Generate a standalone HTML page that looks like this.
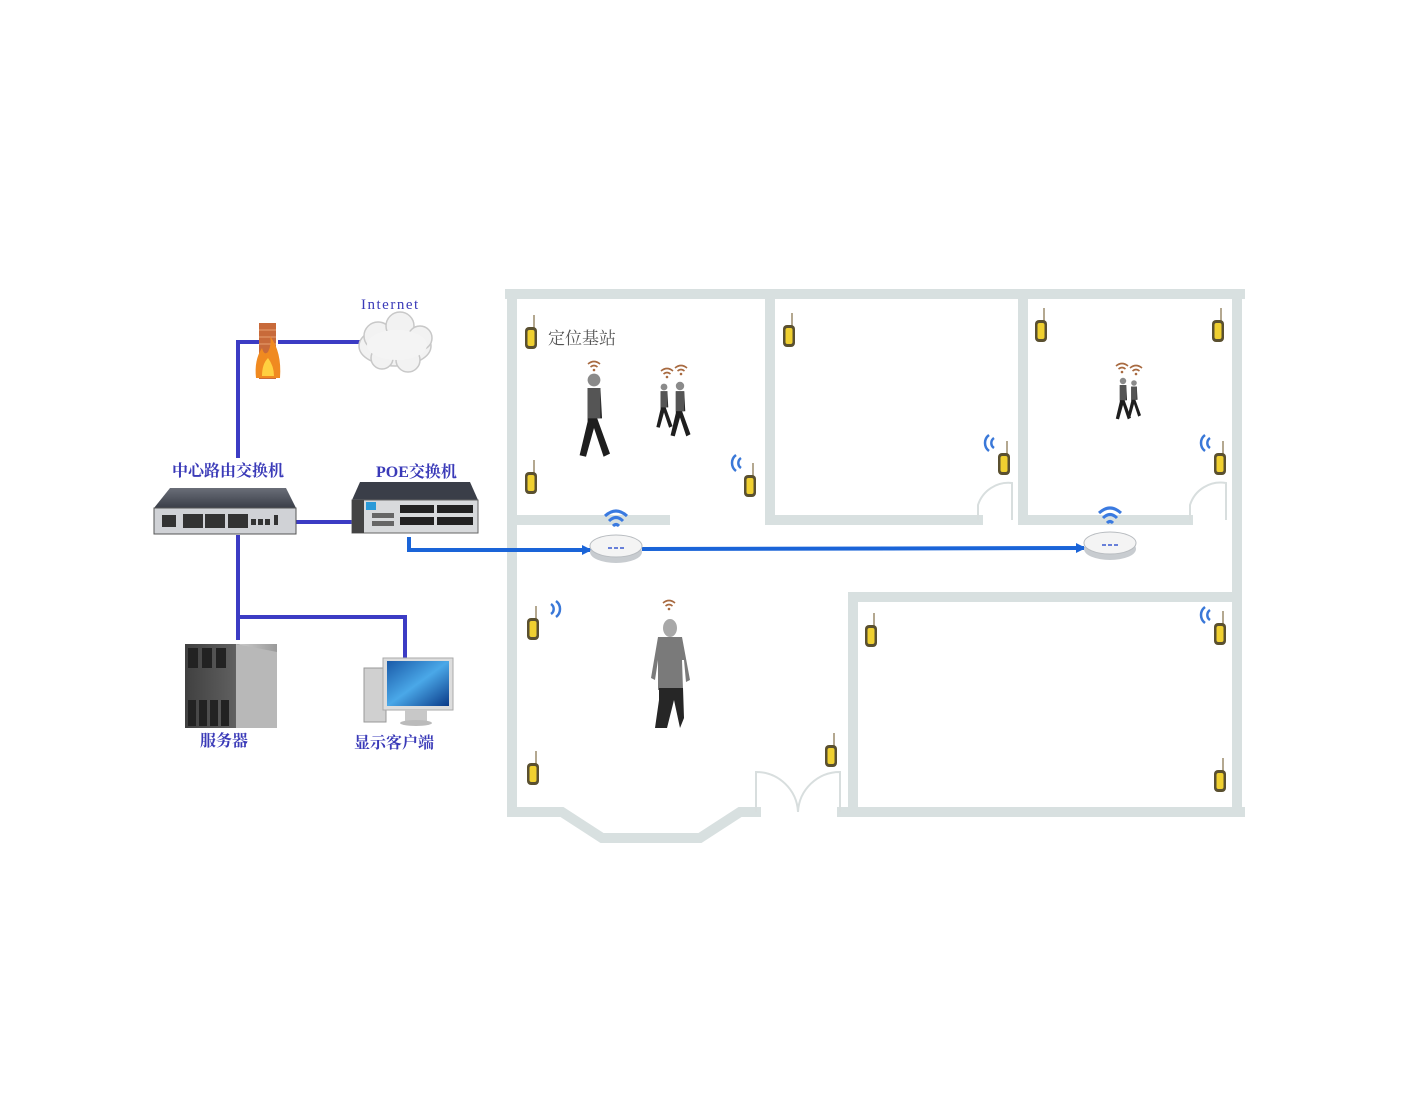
<!DOCTYPE html>
<html><head><meta charset="utf-8"><style>
html,body{margin:0;padding:0;background:#fff;}
svg{display:block}
text{font-family:"Liberation Serif","Noto Serif CJK SC",serif;}
</style></head><body>
<svg width="1425" height="1120" viewBox="0 0 1425 1120" xmlns="http://www.w3.org/2000/svg">
<defs>
<g id="bc">
 <line x1="8" y1="-12" x2="8" y2="2" stroke="#9a8a6a" stroke-width="1.5"/>
 <rect x="-1" y="0" width="12" height="22" rx="4" fill="#5a5030"/>
 <rect x="1.5" y="3" width="7" height="16" rx="2" fill="#f0d030"/>
</g>
<g id="wav">
 <path d="M-2,-8 A10,10 0 0,0 -2,8" fill="none" stroke="#3a78d8" stroke-width="2.5"/>
 <path d="M3,-5 A6,6 0 0,0 3,5" fill="none" stroke="#3a78d8" stroke-width="2.5"/>
</g>
<g id="tw">
 <path d="M-6,-4 Q0,-9 6,-4" fill="none" stroke="#a86a40" stroke-width="1.6"/>
 <path d="M-3.5,-1 Q0,-4 3.5,-1" fill="none" stroke="#a86a40" stroke-width="1.6"/>
 <circle cx="0" cy="2" r="1.3" fill="#a86a40"/>
</g>
<g id="ap">
 <ellipse cx="0" cy="6" rx="26" ry="11" fill="#c8ccd0"/>
 <ellipse cx="0" cy="0" rx="26" ry="11" fill="#f4f4f4" stroke="#b8bcc0"/>
 <line x1="-8" y1="2" x2="8" y2="2" stroke="#3a5ad0" stroke-width="1.5" stroke-dasharray="4 2"/>
 <g transform="translate(0,-28)">
  <path d="M-11,-2 Q0,-12 11,-2" fill="none" stroke="#3a7ae0" stroke-width="3"/>
  <path d="M-7,3 Q0,-4 7,3" fill="none" stroke="#3a7ae0" stroke-width="3"/>
  <path d="M-3,8 Q0,5 3,8" fill="none" stroke="#3a7ae0" stroke-width="3"/>
 </g>
</g>
<g id="walk">
 <circle cx="0" cy="0" r="4" fill="#8a8a8a"/>
 <path d="M-4,5 L4,5 L5,24 L2,24 L10,46 L6,48 L0,30 L-5,48 L-9,47 L-4,26 Z" fill="#1e1e1e"/>
 <path d="M-4,5 L4,5 L4,24 L-4,24 Z" fill="#555"/>
</g>
<marker id="ar" markerUnits="userSpaceOnUse" markerWidth="10" markerHeight="10" refX="8" refY="5" orient="auto"><path d="M0,0 L10,5 L0,10 Z" fill="#1a64d8"/></marker>
<linearGradient id="sw" x1="0" y1="0" x2="0" y2="1"><stop offset="0" stop-color="#6a6e78"/><stop offset="1" stop-color="#3a3e48"/></linearGradient>
<linearGradient id="srv" x1="0" y1="0" x2="1" y2="0"><stop offset="0" stop-color="#404040"/><stop offset="0.55" stop-color="#606060"/><stop offset="0.6" stop-color="#c8c8c8"/><stop offset="1" stop-color="#9a9a9a"/></linearGradient>
<linearGradient id="scr" x1="0" y1="0" x2="1" y2="1"><stop offset="0" stop-color="#1a5aa8"/><stop offset="0.5" stop-color="#4aa8e8"/><stop offset="1" stop-color="#0a3a88"/></linearGradient>
</defs>

<g fill="none" stroke="#d8e0e0" stroke-width="10" stroke-linecap="square">
 <line x1="510" y1="294" x2="1240" y2="294"/>
 <line x1="512" y1="294" x2="512" y2="812"/>
 <line x1="1237" y1="294" x2="1237" y2="812"/>
 <polyline points="512,812 562,812 602,838 700,838 740,812 756,812"/>
 <line x1="842" y1="812" x2="1240" y2="812"/>
 <line x1="770" y1="294" x2="770" y2="520"/>
 <line x1="1023" y1="294" x2="1023" y2="520"/>
 <line x1="514" y1="520" x2="665" y2="520"/>
 <line x1="770" y1="520" x2="978" y2="520"/>
 <line x1="1023" y1="520" x2="1188" y2="520"/>
 <line x1="853" y1="597" x2="1237" y2="597"/>
 <line x1="853" y1="597" x2="853" y2="812"/>
</g>
<g fill="none" stroke="#d8dede" stroke-width="2">
 <path d="M978,520 L978,505 A32,32 0 0,1 1012,483 L1012,520"/>
 <path d="M1190,520 L1190,505 A32,32 0 0,1 1226,483 L1226,520"/>
 <path d="M756,812 L756,772 A42,42 0 0,1 798,812"/>
 <path d="M840,812 L840,772 A42,42 0 0,0 798,812"/>
</g>

<use href="#bc" x="526" y="327"/>
<use href="#bc" x="784" y="325"/>
<use href="#bc" x="1036" y="320"/>
<use href="#bc" x="1213" y="320"/>
<use href="#bc" x="526" y="472"/>
<use href="#bc" x="745" y="475"/>
<use href="#bc" x="999" y="453"/>
<use href="#bc" x="1215" y="453"/>
<use href="#bc" x="528" y="618"/>
<use href="#bc" x="866" y="625"/>
<use href="#bc" x="1215" y="623"/>
<use href="#bc" x="528" y="763"/>
<use href="#bc" x="826" y="745"/>
<use href="#bc" x="1215" y="770"/>
<use href="#wav" x="738" y="463"/>
<use href="#wav" x="991" y="443"/>
<use href="#wav" x="1207" y="443"/>
<use href="#wav" x="1207" y="615"/>
<g transform="translate(554,609) scale(-1,1)"><use href="#wav"/></g>
<text x="548" y="344" font-size="17" fill="#555" font-family="Liberation Sans,Noto Sans CJK SC,sans-serif">定位基站</text>

<use href="#tw" x="594" y="368"/>
<g transform="translate(594,380) scale(1.6)"><use href="#walk"/></g>
<use href="#tw" x="667" y="375"/>
<use href="#tw" x="681" y="372"/>
<g transform="translate(664,387) scale(0.85)"><use href="#walk"/></g>
<g transform="translate(680,386) scale(1.05)"><use href="#walk"/></g>
<use href="#tw" x="1122" y="370"/>
<use href="#tw" x="1136" y="372"/>
<g transform="translate(1134,383) scale(0.7)"><use href="#walk"/></g>
<g transform="translate(1123,381) scale(0.8)"><use href="#walk"/></g>
<use href="#tw" x="669" y="607"/>
<g>
 <ellipse cx="670" cy="628" rx="7" ry="9" fill="#a8a8a8"/>
 <path d="M658,637 L682,637 L690,680 L686,682 L684,660 L682,660 L683,690 L658,690 L658,660 L655,680 L651,678 Z" fill="#7a7a7a"/>
 <path d="M659,688 L683,688 L684,718 L680,728 L674,700 L667,728 L655,728 L659,700 Z" fill="#262626"/>
</g>

<polyline points="409,537 409,550 590,550" fill="none" stroke="#1a64d8" stroke-width="4" marker-end="url(#ar)"/>
<line x1="642" y1="549" x2="1084" y2="548" stroke="#1a64d8" stroke-width="4" marker-end="url(#ar)"/>
<use href="#ap" x="616" y="546"/>
<use href="#ap" x="1110" y="543"/>

<g fill="none" stroke="#3c3cc4" stroke-width="4">
 <polyline points="260,342 238,342 238,458"/>
 <line x1="278" y1="342" x2="362" y2="342"/>
 <line x1="238" y1="535" x2="238" y2="640"/>
 <polyline points="238,617 405,617 405,665"/>
 <line x1="296" y1="522" x2="354" y2="522"/>
</g>

<rect x="259" y="323" width="17" height="56" fill="#c86a3a"/>
<g stroke="#e8a070" stroke-width="1"><line x1="259" y1="330" x2="276" y2="330"/><line x1="259" y1="337" x2="276" y2="337"/><line x1="259" y1="344" x2="276" y2="344"/></g>
<path d="M256,378 Q254,360 262,348 Q264,356 268,352 Q272,344 270,336 Q282,352 280,378 Z" fill="#f08a20"/>
<path d="M262,376 Q262,364 268,358 Q274,366 274,376 Z" fill="#ffd040"/>

<g fill="#f2f2f2" stroke="#c8c8c8" stroke-width="1.5">
 <ellipse cx="395" cy="346" rx="36" ry="20"/>
 <circle cx="378" cy="336" r="14"/><circle cx="400" cy="326" r="14"/><circle cx="420" cy="338" r="12"/>
 <circle cx="382" cy="358" r="11"/><circle cx="408" cy="360" r="12"/>
</g>
<ellipse cx="397" cy="345" rx="30" ry="15" fill="#f4f4f4"/>
<text x="361" y="309" font-size="15" fill="#3a3ab8" letter-spacing="1.5" font-family="Liberation Mono,monospace">Internet</text>

<text x="172" y="476" font-size="16" fill="#3a3ab8" font-weight="bold">中心路由交换机</text>
<text x="376" y="477" font-size="16" fill="#3a3ab8" font-weight="bold">POE交换机</text>
<text x="200" y="746" font-size="16" fill="#3a3ab8" font-weight="bold">服务器</text>
<text x="354" y="748" font-size="16" fill="#3a3ab8" font-weight="bold">显示客户端</text>

<path d="M170,488 L286,488 L296,508 L154,508 Z" fill="url(#sw)"/>
<rect x="154" y="508" width="142" height="26" fill="#d0d2d6" stroke="#555"/>
<g fill="#333">
 <rect x="183" y="514" width="20" height="14"/><rect x="205" y="514" width="20" height="14"/><rect x="228" y="514" width="20" height="14"/>
 <rect x="251" y="519" width="5" height="6"/><rect x="258" y="519" width="5" height="6"/><rect x="265" y="519" width="5" height="6"/><rect x="274" y="515" width="4" height="10"/>
 <rect x="162" y="515" width="14" height="12"/>
</g>

<path d="M360,482 L470,482 L478,500 L352,500 Z" fill="#3a3e48"/>
<rect x="352" y="500" width="126" height="33" fill="#d8dadc" stroke="#666"/>
<rect x="352" y="500" width="12" height="33" fill="#444"/>
<rect x="366" y="502" width="10" height="8" fill="#2a9ad8"/>
<g fill="#222">
 <rect x="400" y="505" width="34" height="8"/><rect x="400" y="517" width="34" height="8"/>
 <rect x="437" y="505" width="36" height="8"/><rect x="437" y="517" width="36" height="8"/>
 <rect x="372" y="513" width="22" height="5" fill="#666"/><rect x="372" y="521" width="22" height="5" fill="#666"/>
</g>

<rect x="185" y="644" width="92" height="84" fill="url(#srv)"/>
<path d="M236,644 L277,652 L277,728 L236,728 Z" fill="#b8b8b8"/>
<g fill="#222"><rect x="188" y="648" width="10" height="20"/><rect x="202" y="648" width="10" height="20"/><rect x="216" y="648" width="10" height="20"/>
<rect x="188" y="700" width="8" height="26"/><rect x="199" y="700" width="8" height="26"/><rect x="210" y="700" width="8" height="26"/><rect x="221" y="700" width="8" height="26"/></g>

<rect x="364" y="668" width="22" height="54" fill="#d0d0d0" stroke="#999"/>
<rect x="383" y="658" width="70" height="52" fill="#ddd" stroke="#aaa"/>
<rect x="387" y="661" width="62" height="45" fill="url(#scr)"/>
<rect x="405" y="710" width="22" height="12" fill="#c8c8c8"/>
<ellipse cx="416" cy="723" rx="16" ry="3" fill="#bbb"/>
</svg>
</body></html>
